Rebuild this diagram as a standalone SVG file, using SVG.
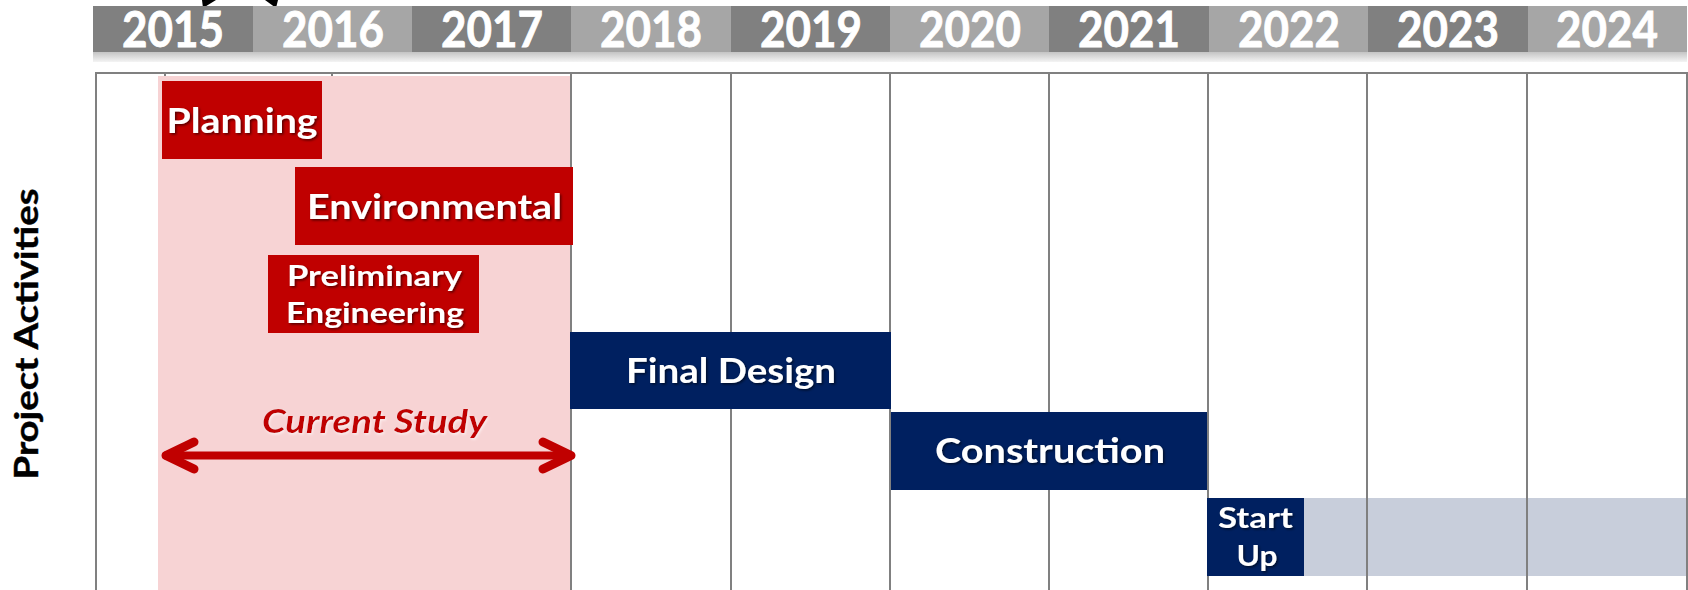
<svg xmlns="http://www.w3.org/2000/svg" width="1688" height="590" viewBox="0 0 1688 590">
<defs>
<linearGradient id="shd" x1="0" y1="0" x2="0" y2="1">
<stop offset="0" stop-color="#c4c4c4"/>
<stop offset="1" stop-color="#f4f4f4"/>
</linearGradient>
<filter id="ts" x="-5%" y="-20%" width="110%" height="150%">
<feDropShadow dx="1.5" dy="1.5" stdDeviation="0.8" flood-color="#000" flood-opacity="0.55"/>
</filter>
<filter id="ts2" x="-5%" y="-20%" width="110%" height="150%">
<feDropShadow dx="1" dy="1.5" stdDeviation="1" flood-color="#fff" flood-opacity="0.6"/>
</filter>
</defs>
<style>
.yd{fill:#808080}
.yl{fill:#a6a6a6}
.yt{font-family:Lato,"Liberation Sans",sans-serif;font-weight:bold;font-size:50px;fill:#fff;stroke:#fff;stroke-width:0.8;text-anchor:middle}
.grid{stroke:#808080;stroke-width:2;fill:none}
.red{fill:#c00000}
.navy{fill:#002060}
.bt{font-family:Lato,"Liberation Sans",sans-serif;font-weight:bold;font-size:34px;fill:#fff;text-anchor:middle;filter:url(#ts)}
.bs{font-family:Lato,"Liberation Sans",sans-serif;font-weight:bold;font-size:29px;fill:#fff;text-anchor:middle;filter:url(#ts)}
.arr{stroke:#c00000;fill:none;stroke-linecap:round;stroke-linejoin:round}
</style>
<rect width="1688" height="590" fill="#fff"/>

<g id="star">
<polygon points="202,0 216,0 203,8" fill="#000"/>
<polygon points="265,0 278,0 276,8" fill="#000"/>
</g>

<g id="years">
<rect x="93" y="52" width="1594" height="10" fill="url(#shd)"/>
<rect class="yd" x="93" y="6" width="160" height="46"/>
<rect class="yl" x="253" y="6" width="159" height="46"/>
<rect class="yd" x="412" y="6" width="159" height="46"/>
<rect class="yl" x="571" y="6" width="160" height="46"/>
<rect class="yd" x="731" y="6" width="159" height="46"/>
<rect class="yl" x="890" y="6" width="159" height="46"/>
<rect class="yd" x="1049" y="6" width="160" height="46"/>
<rect class="yl" x="1209" y="6" width="159" height="46"/>
<rect class="yd" x="1368" y="6" width="160" height="46"/>
<rect class="yl" x="1528" y="6" width="159" height="46"/>
<text class="yt" x="173" y="47" textLength="102" lengthAdjust="spacingAndGlyphs">2015</text>
<text class="yt" x="333" y="47" textLength="102" lengthAdjust="spacingAndGlyphs">2016</text>
<text class="yt" x="492" y="47" textLength="102" lengthAdjust="spacingAndGlyphs">2017</text>
<text class="yt" x="651" y="47" textLength="102" lengthAdjust="spacingAndGlyphs">2018</text>
<text class="yt" x="811" y="47" textLength="102" lengthAdjust="spacingAndGlyphs">2019</text>
<text class="yt" x="970" y="47" textLength="102" lengthAdjust="spacingAndGlyphs">2020</text>
<text class="yt" x="1129" y="47" textLength="102" lengthAdjust="spacingAndGlyphs">2021</text>
<text class="yt" x="1289" y="47" textLength="102" lengthAdjust="spacingAndGlyphs">2022</text>
<text class="yt" x="1448" y="47" textLength="102" lengthAdjust="spacingAndGlyphs">2023</text>
<text class="yt" x="1607" y="47" textLength="102" lengthAdjust="spacingAndGlyphs">2024</text>
</g>

<g id="startup-band">
<rect x="1207" y="498" width="481" height="78" fill="#c8cedb"/>
</g>

<g id="grid" class="grid">
<line x1="95" y1="73" x2="1688" y2="73"/>
<line x1="96" y1="72" x2="96" y2="590"/>
<line x1="165" y1="73" x2="165" y2="590"/>
<line x1="332" y1="73" x2="332" y2="590"/>
<line x1="571" y1="73" x2="571" y2="590"/>
<line x1="731" y1="73" x2="731" y2="590"/>
<line x1="890" y1="73" x2="890" y2="590"/>
<line x1="1049" y1="73" x2="1049" y2="590"/>
<line x1="1208" y1="73" x2="1208" y2="590"/>
<line x1="1367" y1="73" x2="1367" y2="590"/>
<line x1="1527" y1="73" x2="1527" y2="590"/>
<line x1="1687" y1="73" x2="1687" y2="590"/>
</g>

<g id="current-study-area">
<rect x="158" y="76" width="412" height="514" fill="#f7d3d4"/>
</g>

<g id="label-axis">
<text transform="translate(38,334) rotate(-90)" font-family="Lato,'Liberation Sans',sans-serif" font-weight="bold" font-size="32" fill="#000" stroke="#000" stroke-width="0.4" text-anchor="middle" textLength="291" lengthAdjust="spacingAndGlyphs">Project Activities</text>
</g>

<g id="planning">
<rect class="red" x="162" y="81" width="160" height="78"/>
<text class="bt" x="242" y="133" textLength="151" lengthAdjust="spacingAndGlyphs">Planning</text>
</g>

<g id="environmental">
<rect class="red" x="295" y="167" width="278" height="78"/>
<text class="bt" x="434.5" y="219" textLength="255" lengthAdjust="spacingAndGlyphs">Environmental</text>
</g>

<g id="preliminary-engineering">
<rect class="red" x="268" y="255" width="211" height="78"/>
<text class="bs" x="374.5" y="286" textLength="175" lengthAdjust="spacingAndGlyphs">Preliminary</text>
<text class="bs" x="375" y="323" textLength="178" lengthAdjust="spacingAndGlyphs">Engineering</text>
</g>

<g id="final-design">
<rect class="navy" x="570" y="332" width="321" height="77"/>
<text class="bt" x="731" y="383" textLength="210" lengthAdjust="spacingAndGlyphs">Final Design</text>
</g>

<g id="construction">
<rect class="navy" x="891" y="412" width="316" height="78"/>
<text class="bt" x="1050" y="463" textLength="230" lengthAdjust="spacingAndGlyphs">Construction</text>
</g>

<g id="start-up">
<rect class="navy" x="1207" y="498" width="97" height="78"/>
<text class="bs" x="1255.5" y="528" textLength="75" lengthAdjust="spacingAndGlyphs">Start</text>
<text class="bs" x="1257" y="566" textLength="41" lengthAdjust="spacingAndGlyphs">Up</text>
</g>

<g id="current-study-label">
<text x="374.5" y="433" font-family="Lato,'Liberation Sans',sans-serif" font-weight="bold" font-style="italic" font-size="33" fill="#c00000" text-anchor="middle" textLength="225" lengthAdjust="spacingAndGlyphs" filter="url(#ts2)">Current Study</text>
</g>

<g id="connectors">
<line class="arr" x1="166" y1="455.5" x2="569" y2="455.5" stroke-width="8"/>
<polyline class="arr" points="194,442 166,455.5 194,469" stroke-width="9"/>
<polyline class="arr" points="543,442 571,455.5 543,469" stroke-width="9"/>
</g>
</svg>
